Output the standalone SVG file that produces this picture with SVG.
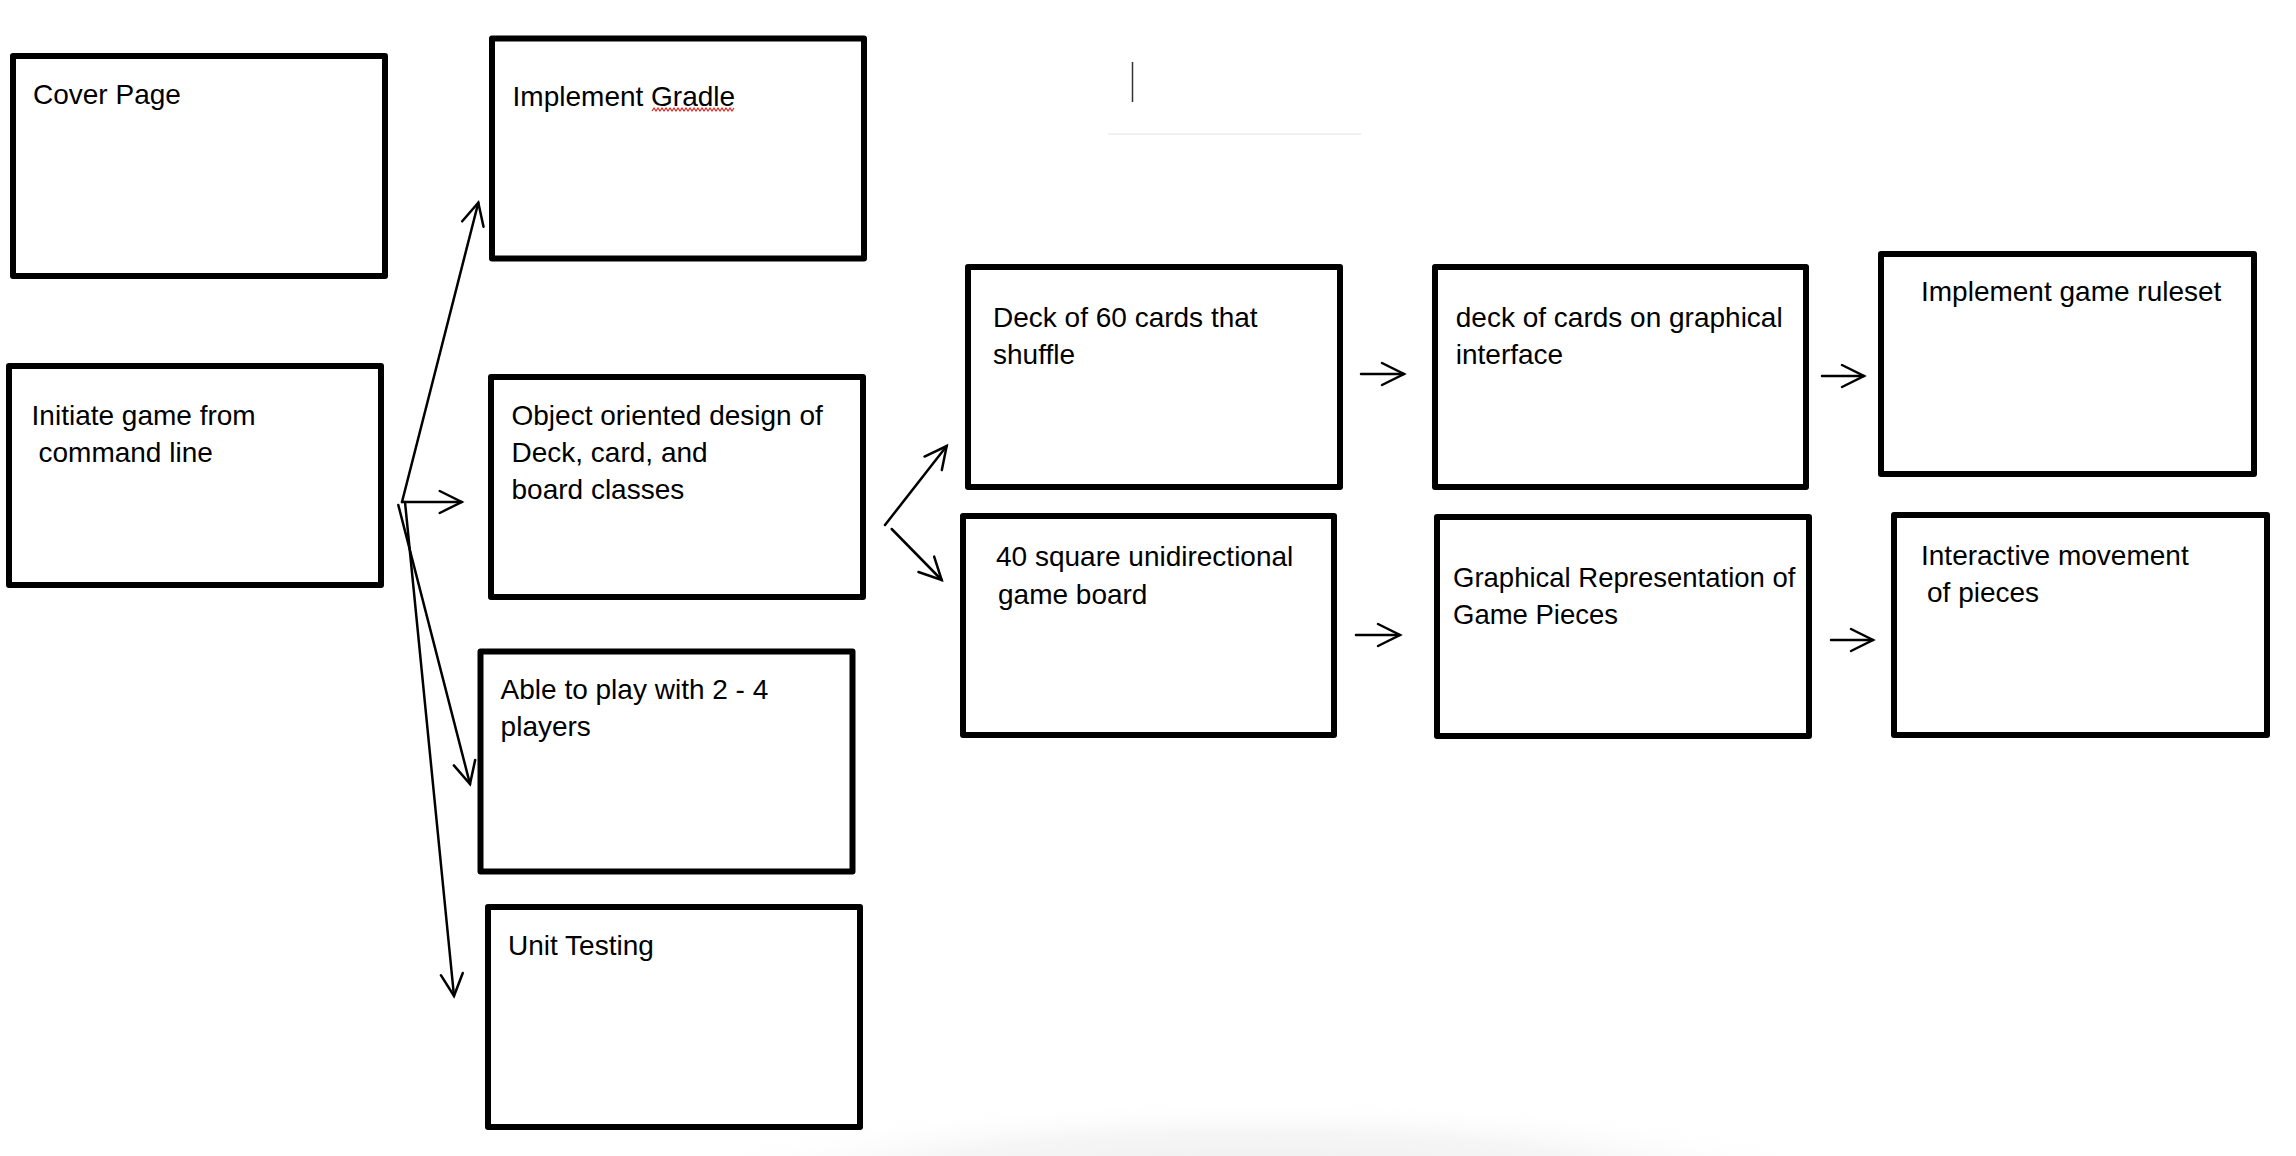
<svg xmlns="http://www.w3.org/2000/svg" width="2296" height="1156" viewBox="0 0 2296 1156">
  <style>
    .box { fill: #ffffff; stroke: #000000; stroke-width: 6; stroke-linejoin: round; }
    .lbl { font-family: "Liberation Sans", Arial, sans-serif; font-size: 28px; fill: #000000; }
    .con { fill: none; stroke: #000000; stroke-width: 2.5; stroke-linecap: round; }
  </style>
  <defs>
    <marker id="arr" markerUnits="userSpaceOnUse" markerWidth="30" markerHeight="30" viewBox="-26 -15 30 30" refX="0" refY="0" orient="auto" overflow="visible">
      <path d="M-22,-11 L0,0 L-22,11" fill="none" stroke="#000000" stroke-width="2.5" stroke-linecap="round" stroke-linejoin="miter"/>
    </marker>
    <radialGradient id="shade" cx="0.5" cy="0.5" r="0.5">
      <stop offset="0" stop-color="#eeeeee" stop-opacity="1"/>
      <stop offset="0.6" stop-color="#f3f3f3" stop-opacity="0.8"/>
      <stop offset="1" stop-color="#ffffff" stop-opacity="0"/>
    </radialGradient>
  </defs>
  <rect x="0" y="0" width="2296" height="1156" fill="#ffffff"/>
  <ellipse cx="1260" cy="1180" rx="600" ry="80" fill="url(#shade)"/>

  <!-- stray marks -->
  <line x1="1132.5" y1="62" x2="1132.5" y2="102" stroke="#333333" stroke-width="1.5"/>
  <line x1="1108" y1="134" x2="1361" y2="134" stroke="#ececec" stroke-width="1.5"/>

  <g id="node-cover">
    <rect class="box" x="13" y="56" width="372" height="220"/>
    <text class="lbl" x="33" y="104">Cover Page</text>
  </g>
  <g id="node-initiate">
    <rect class="box" x="9" y="366" width="372" height="219"/>
    <text class="lbl" x="31.6" y="424.8">Initiate game from</text>
    <text class="lbl" x="38.5" y="462.3">command line</text>
  </g>
  <g id="node-gradle">
    <rect class="box" x="492" y="38.5" width="372" height="220"/>
    <text class="lbl" x="512.6" y="106.4">Implement Gradle</text>
    <path d="M652,111 l2,-3 l2,3 l2,-3 l2,3 l2,-3 l2,3 l2,-3 l2,3 l2,-3 l2,3 l2,-3 l2,3 l2,-3 l2,3 l2,-3 l2,3 l2,-3 l2,3 l2,-3 l2,3 l2,-3 l2,3 l2,-3 l2,3 l2,-3 l2,3 l2,-3 l2,3 l2,-3 l2,3 l2,-3 l2,3 l2,-3 l2,3 l2,-3 l2,3 l2,-3 l2,3 l2,-3 l2,3 l2,-3" fill="none" stroke="#e0201b" stroke-width="1.2"/>
  </g>
  <g id="node-ood">
    <rect class="box" x="491" y="377" width="372" height="220"/>
    <text class="lbl" x="511.5" y="424.8">Object oriented design of</text>
    <text class="lbl" x="511.5" y="462.3">Deck, card, and</text>
    <text class="lbl" x="511.5" y="499.4">board classes</text>
  </g>
  <g id="node-players">
    <rect class="box" x="480.5" y="651.5" width="372" height="220"/>
    <text class="lbl" x="500.6" y="698.8">Able to play with 2 - 4</text>
    <text class="lbl" x="500.6" y="736">players</text>
  </g>
  <g id="node-unit">
    <rect class="box" x="488" y="907" width="372" height="220"/>
    <text class="lbl" x="508" y="955">Unit Testing</text>
  </g>
  <g id="node-deck60">
    <rect class="box" x="968" y="267" width="372" height="220"/>
    <text class="lbl" x="993" y="326.5">Deck of 60 cards that</text>
    <text class="lbl" x="993" y="363.5">shuffle</text>
  </g>
  <g id="node-deckgui">
    <rect class="box" x="1435" y="267" width="371" height="220"/>
    <text class="lbl" x="1455.8" y="326.5">deck of cards on graphical</text>
    <text class="lbl" x="1455.8" y="363.5">interface</text>
  </g>
  <g id="node-ruleset">
    <rect class="box" x="1881" y="254" width="373" height="220"/>
    <text class="lbl" x="1921" y="301">Implement game ruleset</text>
  </g>
  <g id="node-board">
    <rect class="box" x="963" y="516" width="371" height="219"/>
    <text class="lbl" x="996" y="566">40 square unidirectional</text>
    <text class="lbl" x="998" y="603.5">game board</text>
  </g>
  <g id="node-pieces">
    <rect class="box" x="1437" y="517" width="372" height="219"/>
    <text class="lbl" x="1453" y="586.7" style="font-size:27.5px">Graphical Representation of</text>
    <text class="lbl" x="1453" y="623.5" style="font-size:27.5px">Game Pieces</text>
  </g>
  <g id="node-interactive">
    <rect class="box" x="1894" y="515" width="373" height="220"/>
    <text class="lbl" x="1921" y="564.7">Interactive movement</text>
    <text class="lbl" x="1927" y="602">of pieces</text>
  </g>

  <g id="connectors">
    <line class="con" x1="402" y1="502" x2="478.3" y2="202.7" marker-end="url(#arr)"/>
    <line class="con" x1="402" y1="502" x2="461.7" y2="502" marker-end="url(#arr)"/>
    <line class="con" x1="398.3" y1="505" x2="470" y2="784" marker-end="url(#arr)"/>
    <line class="con" x1="405" y1="502" x2="454" y2="996" marker-end="url(#arr)"/>
    <line class="con" x1="885" y1="525" x2="946.7" y2="446" marker-end="url(#arr)"/>
    <line class="con" x1="891.7" y1="529" x2="941.7" y2="580" marker-end="url(#arr)"/>
    <line class="con" x1="1361" y1="374" x2="1404" y2="374" marker-end="url(#arr)"/>
    <line class="con" x1="1822" y1="376" x2="1864" y2="376" marker-end="url(#arr)"/>
    <line class="con" x1="1356" y1="635" x2="1400" y2="635" marker-end="url(#arr)"/>
    <line class="con" x1="1831" y1="640" x2="1873" y2="640" marker-end="url(#arr)"/>
  </g>
</svg>
